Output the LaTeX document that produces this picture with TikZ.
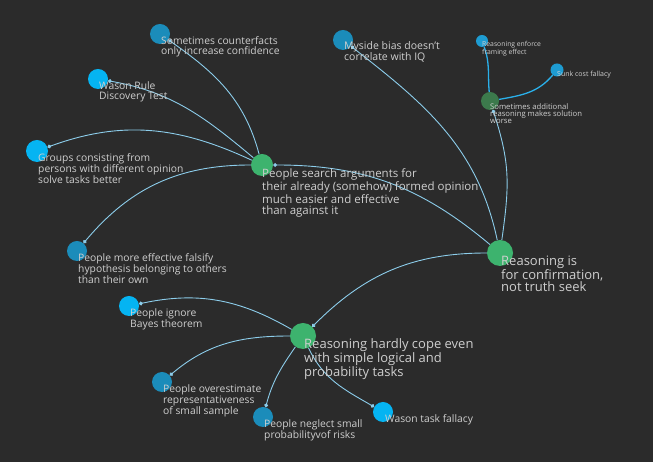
\documentclass[tikz,border=0pt]{standalone}
\usepackage{fontspec}
\setmainfont{Open Sans}
\usetikzlibrary{arrows.meta}
\definecolor{bg}{HTML}{2B2B2B}
\definecolor{grn}{HTML}{3DB36E}
\definecolor{grndim}{HTML}{3C7A4C}
\definecolor{bbright}{HTML}{05B4F2}
\definecolor{bdark}{HTML}{1B8CBA}
\definecolor{bmid}{HTML}{1E9CD2}
\definecolor{edgec}{HTML}{8CCDEB}
\definecolor{edgeb}{HTML}{2AB0EA}
\definecolor{txt}{HTML}{CFCFCF}
\tikzset{
  dot/.style={circle,inner sep=0pt,draw=none,minimum size=#1},
  edge/.style={draw=edgec,line width=0.9pt,{Circle[length=3.8pt]}-},
  edgeblue/.style={draw=edgeb,line width=1.3pt},
  lbl/.style={anchor=north west,inner sep=0pt,text=txt,align=left},
}
\newcommand{\fs}[2]{\fontsize{#1}{#2}\selectfont}
\begin{document}
\begin{tikzpicture}[x=1pt,y=1pt]
\fill[bg] (0,0) rectangle (653,462);
\useasboundingbox (0,0) rectangle (653,462);
% circles
\node[dot=26pt,fill=grn] (root) at (500,209) {};
\node[dot=22pt,fill=grn] (ps) at (262,297) {};
\node[dot=26pt,fill=grn] (rh) at (303,126) {};
\node[dot=18pt,fill=grndim] (sa) at (490,361) {};
\node[dot=12pt,fill=bmid] (fr) at (482,421) {};
\node[dot=13pt,fill=bmid] (sc) at (557,392) {};
\node[dot=20pt,fill=bdark] (my) at (343,422) {};
\node[dot=20pt,fill=bdark] (cf) at (160,428) {};
\node[dot=20pt,fill=bbright] (wr) at (98,383) {};
\node[dot=22pt,fill=bbright] (gr) at (37,311) {};
\node[dot=20pt,fill=bdark] (pm) at (77,211) {};
\node[dot=20pt,fill=bbright] (ib) at (129,156) {};
\node[dot=20pt,fill=bdark] (ov) at (162,80) {};
\node[dot=20pt,fill=bdark] (ne) at (263,45) {};
\node[dot=20pt,fill=bbright] (wt) at (383,50) {};
% edges
\draw[edge] (ps) to[out=0,in=140] (root);
\draw[edge] (my) to[out=-38,in=102] (root);
\draw[edge] (sa) to[out=-72,in=82,looseness=1.1] (root);
\draw[edge] (rh) to[out=45,in=180] (root);
\draw[edge] (cf) to[out=-35,in=105] (ps);
\draw[edge] (wr) to[out=-10,in=140] (ps);
\draw[edge] (gr) to[out=20,in=155] (ps);
\draw[edge] (pm) to[out=50,in=180] (ps);
\draw[edge] (ib) to[out=12,in=150] (rh);
\draw[edge] (ov) to[out=40,in=180] (rh);
\draw[edge] (ne) to[out=75,in=-125] (rh);
\draw[edge] (wt) to[out=150,in=-65] (rh);
\draw[edgeblue] (fr) to[out=-70,in=95] (sa);
\draw[edgeblue] (sc) to[out=-130,in=10] (sa);
% labels
\node[lbl,font=\fs{13}{11.7}] (troot) at (501,206) {Reasoning is\\for confirmation,\\not truth seek};
\node[lbl,font=\fs{11.5}{11}] (tps) at (262,293) {People search arguments for\\their already (somehow) formed opinion\\much easier and effective\\than against it};
\node[lbl,font=\fs{13}{12}] (trh) at (304,124) {Reasoning hardly cope even\\with simple logical and\\probability tasks};
\node[lbl,font=\fs{7.7}{7.3}] (tsa) at (490,359) {Sometimes additional\\reasoning makes solution\\worse};
\node[lbl,font=\fs{6.8}{6}] (tfr) at (482,421) {Reasoning enforce\\framing effect};
\node[lbl,font=\fs{7}{7}] (tsc) at (557,391) {Sunk cost fallacy};
\node[lbl,font=\fs{10.5}{10}] (tmy) at (344,421) {Myside bias doesn't\\correlate with IQ};
\node[lbl,font=\fs{10.3}{10}] (tcf) at (161,426) {Sometimes counterfacts\\only increase confidence};
\node[lbl,font=\fs{10.3}{10}] (twr) at (99,381) {Wason Rule\\Discovery Test};
\node[lbl,font=\fs{10.3}{9.7}] (tgr) at (38,309) {Groups consisting from\\persons with different opinion\\solve tasks better};
\node[lbl,font=\fs{10.3}{9.7}] (tpm) at (78,209) {People more effective falsify\\hypothesis belonging to others\\than their own};
\node[lbl,font=\fs{10.3}{9.7}] (tib) at (130,154) {People ignore\\Bayes theorem};
\node[lbl,font=\fs{10.3}{9.7}] (tov) at (163,78) {People overestimate\\representativeness\\of small sample};
\node[lbl,font=\fs{10.3}{9.7}] (tne) at (264,43) {People neglect small\\probabilityvof risks};
\node[lbl,font=\fs{10.3}{10}] (twt) at (385,48) {Wason task fallacy};
\end{tikzpicture}
\end{document}
